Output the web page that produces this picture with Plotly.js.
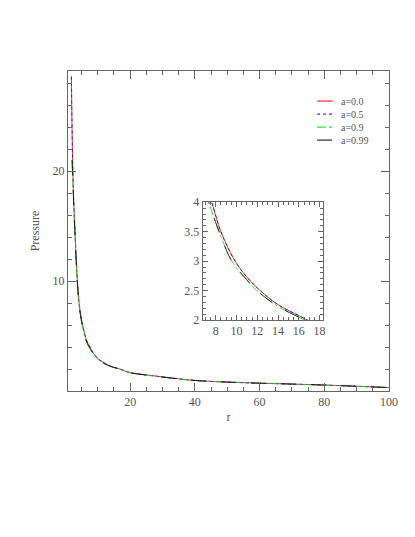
<!DOCTYPE html>
<html>
<head>
<meta charset="utf-8">
<script src="https://cdn.plot.ly/plotly-3.0.1.min.js"></script>
<style>
  html, body { margin: 0; padding: 0; background: #fff; }
  #chart { width: 415px; height: 537px; }
</style>
</head>
<body>
<div id="chart"></div>
<script>
// pressure profiles
const rLow = [1.85, 2.0, 2.3, 2.6, 2.9, 3.3, 3.7, 4.2, 4.8, 5.4, 6.2, 7.0, 7.62, 8.5, 9.87, 11.0, 12.28, 14.0, 16.8, 20, 25, 30, 35, 40, 50, 60, 70, 80, 90, 100];
const pLow = [28.6, 25.0, 20.0, 17.0, 15.0, 12.2, 10.0, 8.1, 6.8, 5.9, 4.9, 4.3, 4.0, 3.5, 3.0, 2.73, 2.5, 2.26, 2.0, 1.67, 1.46, 1.28, 1.11, 0.96, 0.81, 0.71, 0.63, 0.54, 0.43, 0.31];

const rHigh = [2.05, 2.3, 2.6, 2.9, 3.3, 3.7, 4.2, 4.8, 5.4, 6.2, 7.0, 7.33, 8.5, 9.55, 11.0, 11.96, 14.0, 16.53, 20, 25, 30, 35, 40, 50, 60, 70, 80, 90, 100];
const pHigh = [21.0, 19.2, 16.6, 14.6, 11.9, 9.8, 7.9, 6.6, 5.7, 4.75, 4.18, 4.0, 3.42, 3.0, 2.68, 2.5, 2.23, 2.0, 1.66, 1.45, 1.27, 1.1, 0.96, 0.81, 0.71, 0.63, 0.54, 0.43, 0.31];

const labels = ['a=0.0', 'a=0.5', 'a=0.9', 'a=0.99'];
const colors = ['#ff0000', '#0000ff', '#00dd00', '#000000'];
const dashes = ['solid', 'dot', 'dashdot', 'longdash'];
const groups = [[rLow, pLow], [rLow, pLow], [rHigh, pHigh], [rHigh, pHigh]];

const traces = [];
['x', 'x2'].forEach(ax => {
  labels.forEach((name, i) => {
    traces.push({
      x: groups[i][0], y: groups[i][1], name: name, showlegend: false,
      type: 'scatter', mode: 'lines',
      line: { color: colors[i], dash: dashes[i], width: 0.8, shape: 'spline' },
      xaxis: ax, yaxis: ax === 'x' ? 'y' : 'y2'
    });
  });
});

const font = { family: 'Liberation Serif, DejaVu Serif, serif', size: 12, color: '#555' };
const axisCommon = {
  showgrid: false, zeroline: false, showline: true, linecolor: '#666', linewidth: 1,
  mirror: 'allticks', ticks: 'inside', tickcolor: '#666', tickwidth: 1, tickfont: font
};

// hand-built legend, compact like the original: one text block, line samples beside it
const legendSize = 10;
const rowStep = legendSize * 1.3 / 320;
const legendTop = 0.906;
const legendShapes = labels.map((name, i) => {
  const yy = legendTop - i * rowStep;
  return {
    type: 'line', xref: 'paper', yref: 'paper', x0: 0.776, x1: 0.826, y0: yy, y1: yy,
    line: { color: colors[i], dash: dashes[i], width: 1 }
  };
});
const legendNote = {
  xref: 'paper', yref: 'paper', x: 0.848, y: legendTop - 1.5 * rowStep,
  xanchor: 'left', yanchor: 'middle', align: 'left', borderpad: 0,
  text: labels.join('<br>'), showarrow: false,
  font: { family: font.family, size: legendSize, color: '#555' }
};

const layout = {
  width: 415, height: 537,
  margin: { l: 68, r: 26, t: 71, b: 146 },
  paper_bgcolor: '#fff', plot_bgcolor: '#fff',
  font: font,
  showlegend: false,
  shapes: legendShapes,
  annotations: [legendNote],
  xaxis: Object.assign({}, axisCommon, {
    range: [0.8, 100], tickvals: [20, 40, 60, 80, 100], ticklen: 8,
    minor: { dtick: 5, tick0: 0, ticks: 'inside', ticklen: 4, tickcolor: '#666' },
    title: { text: 'r', font: font, standoff: 4 }
  }),
  yaxis: Object.assign({}, axisCommon, {
    range: [0, 29.1], tickvals: [10, 20], ticklen: 8,
    minor: { dtick: 2, tick0: 0, ticks: 'inside', ticklen: 4, tickcolor: '#666' },
    title: { text: 'Pressure', font: font, standoff: 10 }
  }),
  xaxis2: Object.assign({}, axisCommon, {
    domain: [0.4196, 0.7935], anchor: 'y2',
    range: [6.75, 18.3], dtick: 2, tick0: 0, ticklen: 5,
    minor: { dtick: 0.5, tick0: 0, ticks: 'inside', ticklen: 3, tickcolor: '#666' }
  }),
  yaxis2: Object.assign({}, axisCommon, {
    domain: [0.222, 0.5897], anchor: 'x2',
    range: [2, 4], dtick: 0.5, tick0: 0, ticklen: 5,
    minor: { dtick: 0.1, tick0: 0, ticks: 'inside', ticklen: 3, tickcolor: '#666' }
  })
};

Plotly.newPlot('chart', traces, layout, { displayModeBar: false, staticPlot: true });
</script>
</body>
</html>
